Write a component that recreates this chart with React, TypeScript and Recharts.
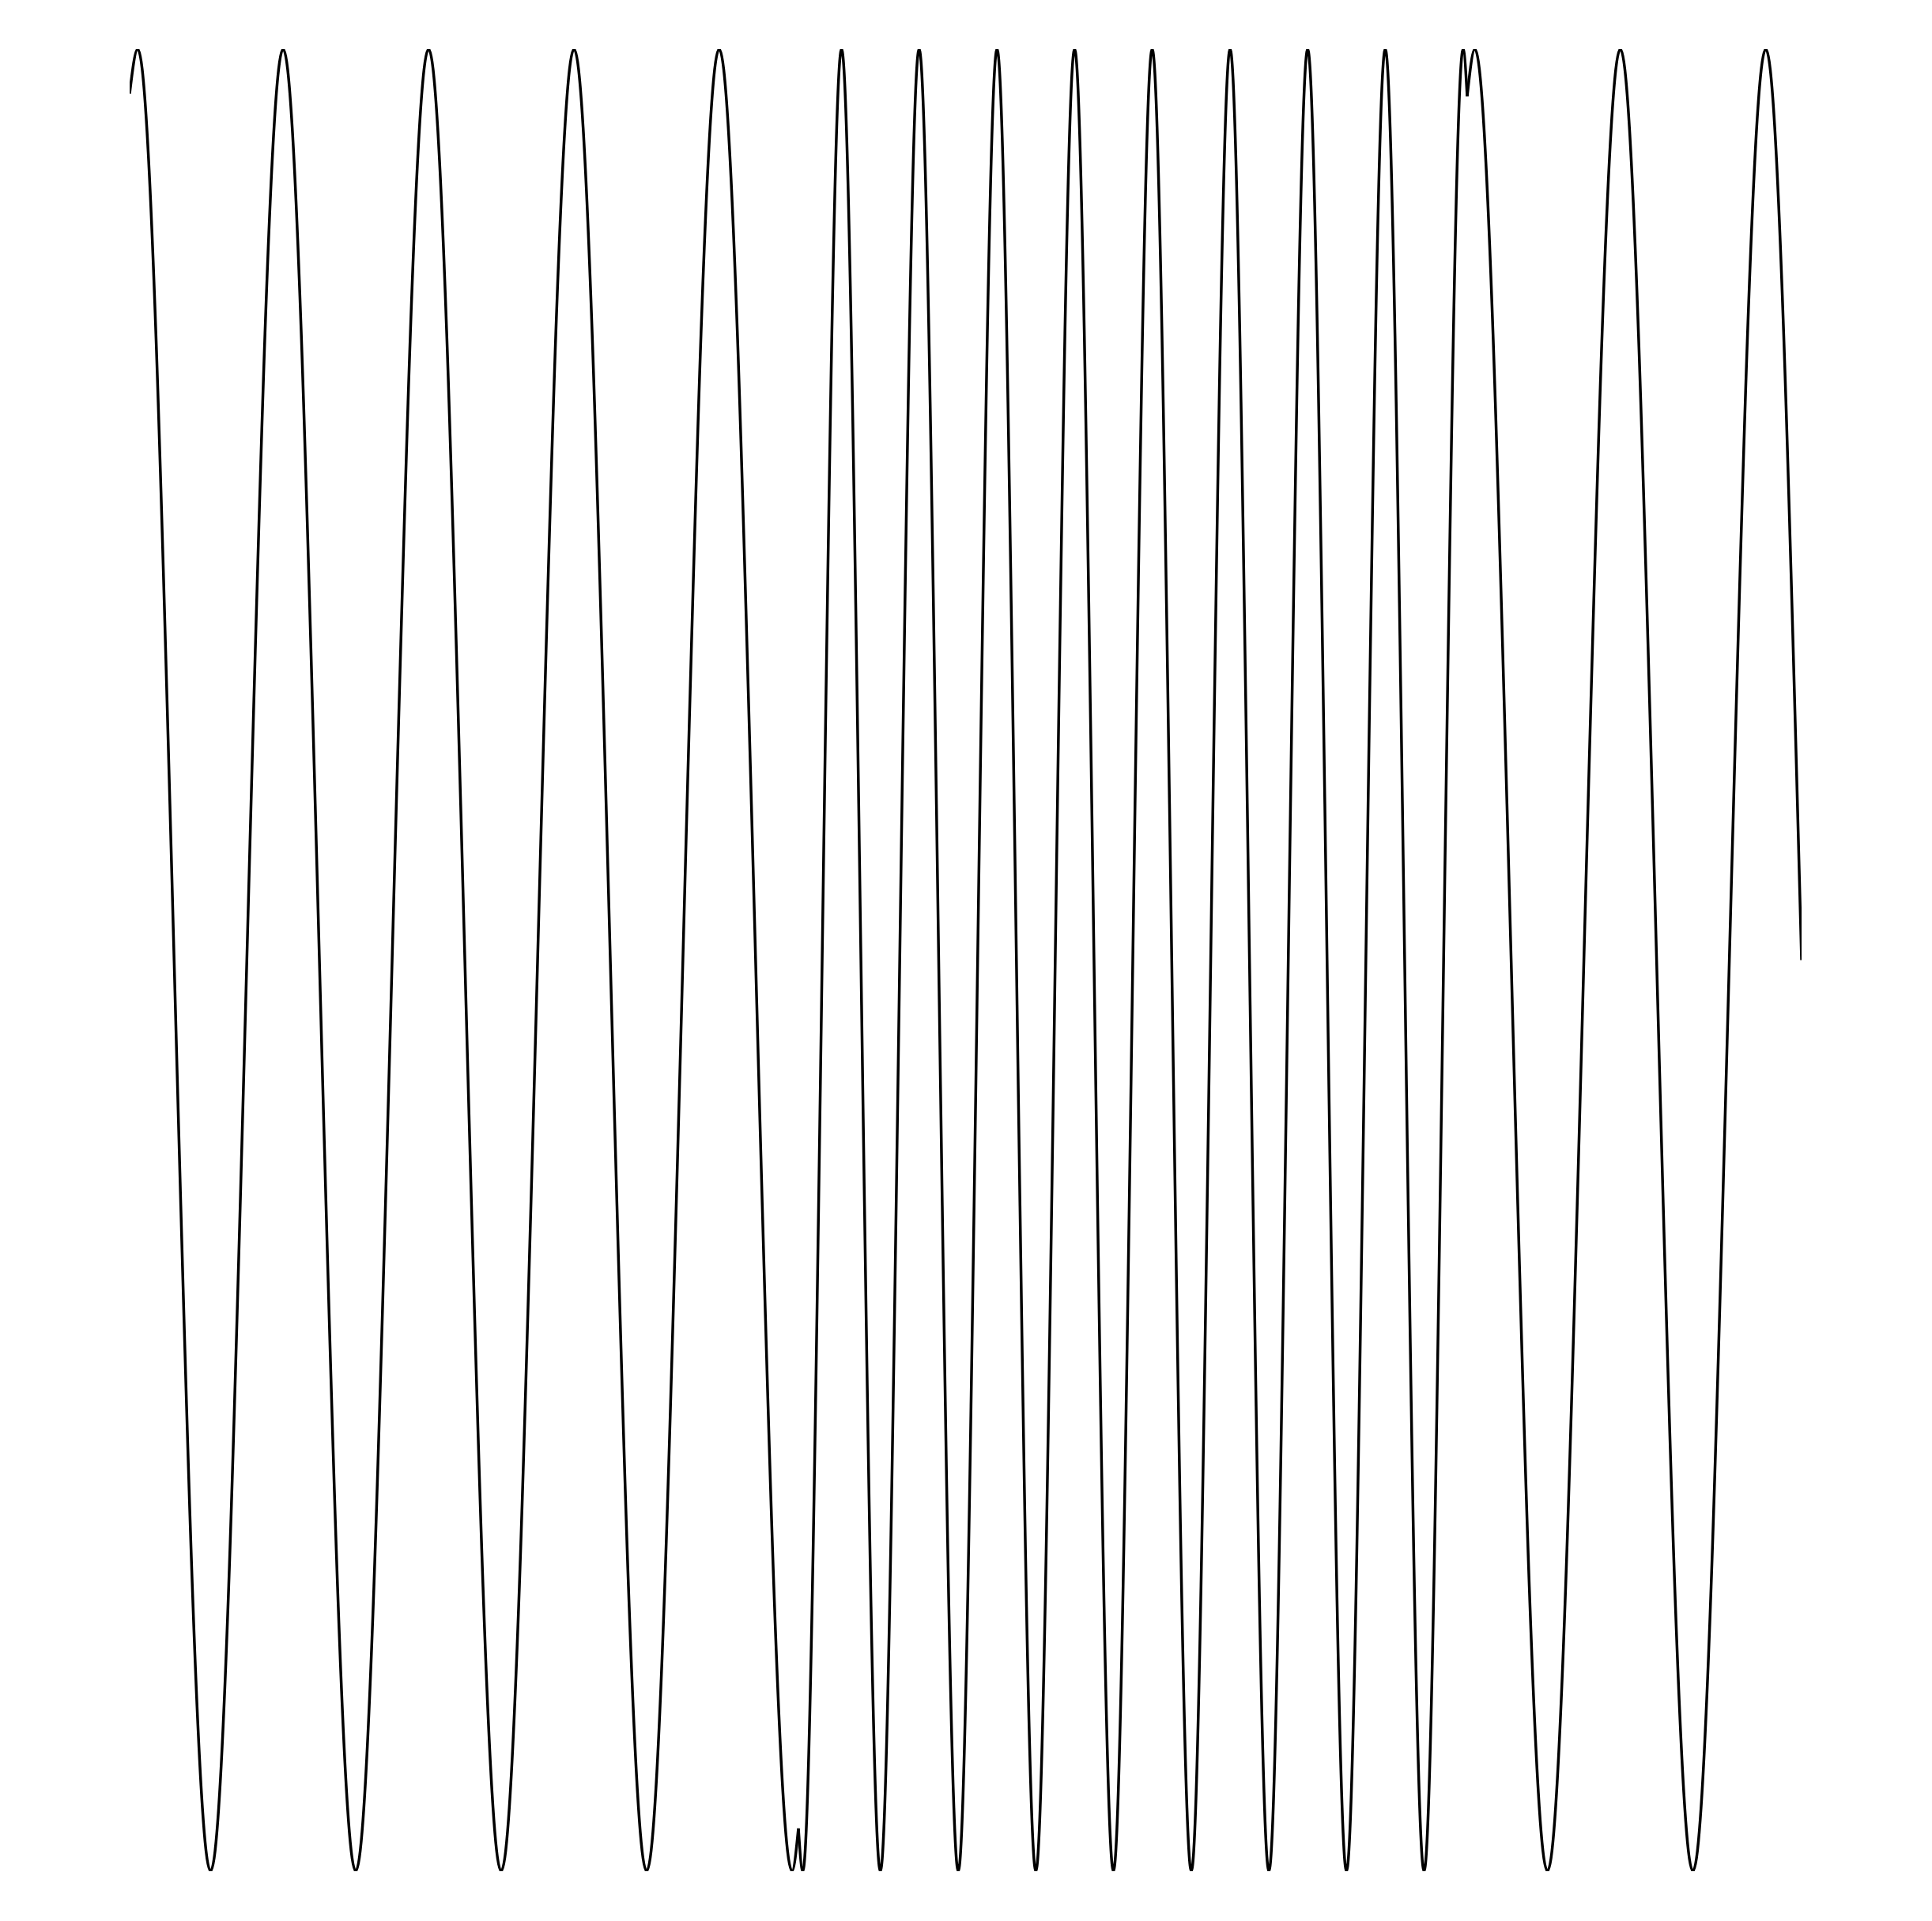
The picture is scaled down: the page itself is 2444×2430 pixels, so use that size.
import { LineChart, Line, XAxis, YAxis } from "recharts"

// first stretch, slow tone (time, amplitude)
const slowTimeA = [0, 0.024, 0.242, 0.459, 0.676, 0.894, 1.111, 1.329, 1.546, 1.763, 1.981, 2.0]
const slowValueA = [0.951, 1, -1, 1, -1, 1, -1, 1, -1, 1, -1, -0.953]

// middle stretch, fast tone
const fastTime = [2.0, 2.013, 2.129, 2.245, 2.361, 2.478, 2.594, 2.71, 2.826, 2.942, 3.058, 3.175, 3.291, 3.407, 3.523, 3.639, 3.755, 3.871, 3.988, 4.0]
const fastValue = [-0.953, -1, 1, -1, 1, -1, 1, -1, 1, -1, 1, -1, 1, -1, 1, -1, 1, -1, 1, 0.948]

// last stretch, slow tone again
const slowTimeB = [4.0, 4.023, 4.24, 4.458, 4.675, 4.893, 5.0]
const slowValueB = [0.948, 1, -1, 1, -1, 1, 0]

const zip = (ts: number[], vs: number[]) => ts.map((t, i) => ({ t, v: vs[i] }))

const segments = [
  zip(slowTimeA, slowValueA),
  zip(fastTime, fastValue),
  zip(slowTimeB, slowValueB),
]

export default function App() {
  return (
    <div style={{ position: "absolute", left: 0, top: 0, background: "#fff" }}>
      <LineChart width={2444} height={2430} margin={{ top: 62, right: 165, bottom: 63, left: 164 }}>
        <XAxis dataKey="t" type="number" domain={[0, 5]} hide allowDataOverflow />
        <YAxis type="number" domain={[-1, 1]} hide allowDataOverflow />
        {segments.map((seg, i) => (
          <Line
            key={i}
            data={seg}
            dataKey="v"
            type="monotone"
            stroke="#000"
            strokeWidth={3.5}
            dot={false}
            activeDot={false}
            isAnimationActive={false}
          />
        ))}
      </LineChart>
    </div>
  )
}
